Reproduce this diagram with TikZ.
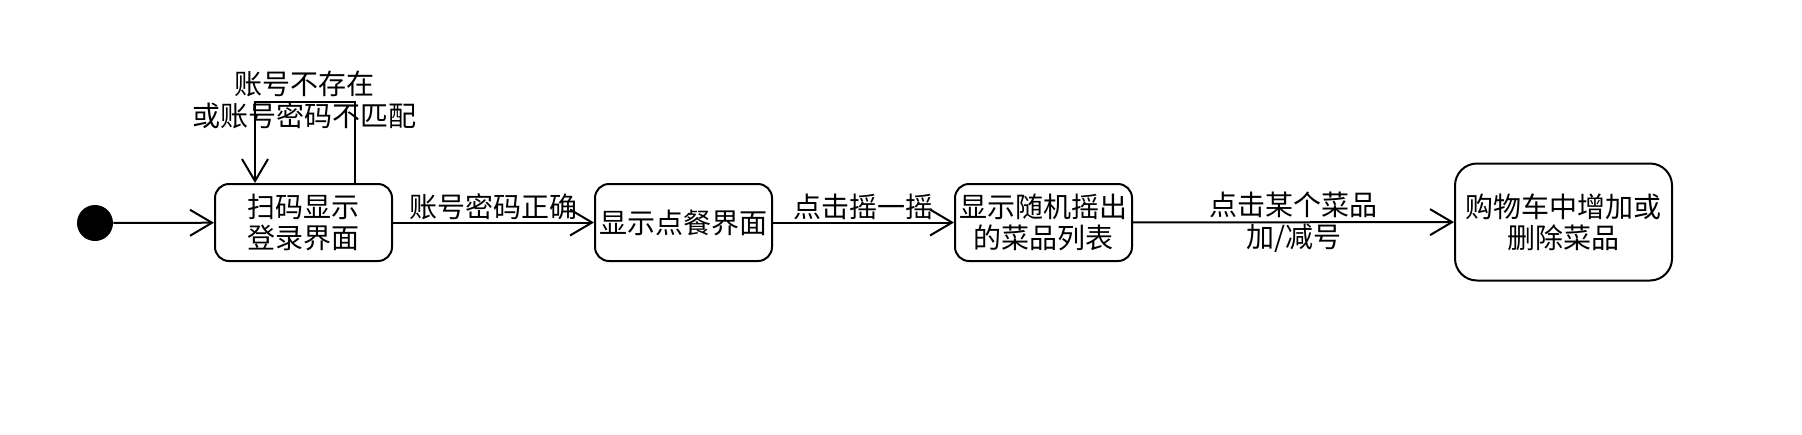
\documentclass[tikz,border=0pt]{standalone}
\usepackage{fontspec}
\setmainfont{Noto Sans CJK SC}
\usetikzlibrary{calc,arrows.meta}
\tikzset{
  state/.style={draw, line width=1pt, rounded corners=7pt, minimum width=88.5pt, minimum height=38.5pt, align=center, inner sep=1pt, font=\fontsize{14pt}{15.5pt}\selectfont},
  trans/.style={line width=1pt, -{Straight Barb[length=11pt,width=13pt,line width=1pt]}},
  lbl/.style={align=center, inner sep=1pt, font=\fontsize{14pt}{16pt}\selectfont}
}

\begin{document}
\begin{tikzpicture}[x=0.5pt,y=-0.5pt]
			%%%%% START %%%%%
			\useasboundingbox (0,0) rectangle (1802,434);
			
			\node[circle, fill=black, minimum size=18pt, inner sep=0pt] (init) at (95,223) {};
			
			\node[state] (login) at (303.5,222.5) {扫码显示\\登录界面};
			\node[state] (menu) at (683.5,222.5) {显示点餐界面};
			\node[state] (shake) at (1043.5,222.5) {显示随机摇出\\的菜品列表};
			\node[state, rounded corners=11pt, minimum width=108.5pt, minimum height=58.5pt] (cart) at (1563.5,222) {购物车中增加或\\删除菜品};
			
			\draw[trans] (init) -- (login);
			
			\draw[trans] ($(login.north)+(51,0)$) -- ++(0,-81) -| ($(login.north)+(-48.5,0)$);
			\node[lbl] (loop) at (304,100) {账号不存在\\或账号密码不匹配};
			
			\draw[trans] (login) -- node[lbl, above] {账号密码正确} (menu);
			\draw[trans] (menu) -- node[lbl, above] {点击摇一摇} (shake);
			\draw[trans] (shake) -- node[lbl] {点击某个菜品\\加/减号} (cart);
			
			%%%%% END %%%%%
		\end{tikzpicture}
\end{document}
